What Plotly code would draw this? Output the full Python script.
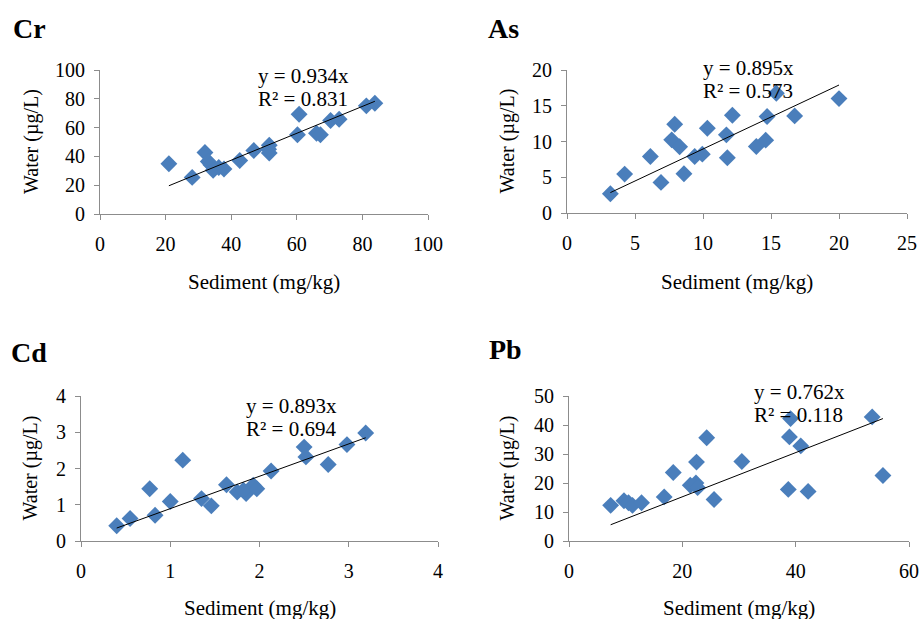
import plotly.graph_objects as go

# ---------------- data ----------------
panels = ["Cr", "As", "Cd", "Pb"]

cr_sediment = [21.0, 28.1, 32.0, 33.0, 33.8, 34.5, 36.2, 37.8, 42.6, 46.9, 51.6, 51.6, 51.4,
               60.2, 60.7, 66.0, 67.2, 70.3, 72.9, 81.2, 83.8]
cr_water = [34.9, 25.4, 42.7, 36.5, 34.2, 30.3, 32.3, 31.2, 37.2, 44.1, 47.8, 42.3, 45.0,
            55.0, 69.3, 56.1, 55.0, 64.9, 65.8, 75.1, 76.9]

as_sediment = [3.19, 4.24, 6.13, 6.91, 7.70, 7.92, 8.28, 8.60, 9.39, 9.95, 10.32, 11.72, 11.79,
               12.16, 13.92, 14.61, 14.71, 15.39, 16.74, 20.0]
as_water = [2.70, 5.44, 7.91, 4.28, 10.23, 12.42, 9.26, 5.49, 7.91, 8.23, 11.86, 10.93, 7.72,
            13.67, 9.30, 10.19, 13.49, 16.74, 13.58, 16.0]

cd_sediment = [0.40, 0.55, 0.77, 0.83, 1.00, 1.14, 1.35, 1.46, 1.63, 1.75, 1.85, 1.82, 1.93,
               1.97, 2.13, 2.50, 2.52, 2.77, 2.98, 3.19]
cd_water = [0.42, 0.62, 1.44, 0.71, 1.09, 2.23, 1.17, 0.97, 1.55, 1.35, 1.31, 1.40, 1.54,
            1.44, 1.93, 2.59, 2.32, 2.11, 2.66, 2.98]

pb_sediment = [7.35, 9.7, 10.5, 11.2, 12.8, 16.8, 18.4, 21.4, 22.4, 22.5, 22.7, 24.3, 25.6,
               30.5, 38.7, 38.9, 39.1, 40.9, 42.2, 53.5, 55.4]
pb_water = [12.3, 13.9, 13.2, 12.3, 13.2, 15.2, 23.6, 19.2, 20.0, 27.2, 18.4, 35.6, 14.3,
            27.4, 17.8, 35.9, 42.2, 32.8, 17.1, 42.8, 22.6]

slopes = [0.934, 0.895, 0.893, 0.762]
r2_values = ["0.831", "0.573", "0.694", "0.118"]

x_ranges = [[0, 100], [0, 25], [0, 4], [0, 60]]
x_dticks = [20, 5, 1, 20]
y_ranges = [[0, 100], [0, 20], [0, 4], [0, 50]]
y_dticks = [20, 5, 1, 10]

sediments = [cr_sediment, as_sediment, cd_sediment, pb_sediment]
waters = [cr_water, as_water, cd_water, pb_water]

# ---------------- layout helpers ----------------
W, H = 921, 619
# plot boxes in pixels: (left, right, top, bottom)
boxes = [(100, 428, 70, 214), (567, 907, 70, 213), (81, 438, 396, 541), (569, 909, 396, 541)]
# panel title positions (left px, center y px)
title_pos = [(11, 28), (486, 28), (9, 352), (487, 349)]
# equation positions (left px, center y px of first line)
eq_pos = [(256, 76), (701, 68), (244, 406), (752, 392)]
ytitle_x = [32, 507, 30, 507]
xtitle_y = [282, 282, 608, 608]

def px(x):
    return x / W

def py(y):
    return 1 - y / H

FONT = "Liberation Serif, Times New Roman, serif"
MARKER = "#4A7EBB"
AXIS = "#8C8C8C"

fig = go.Figure()
annotations = []
layout_axes = {}

for i, name in enumerate(panels):
    n = i + 1
    xa = "x" if n == 1 else f"x{n}"
    ya = "y" if n == 1 else f"y{n}"
    l, r, t, b = boxes[i]
    sx, sy = sediments[i], waters[i]

    fig.add_trace(go.Scatter(
        x=sx, y=sy, mode="markers", xaxis=xa, yaxis=ya,
        marker=dict(symbol="diamond", size=13, color=MARKER, line=dict(width=0)),
        showlegend=False, cliponaxis=False,
    ))
    xmin, xmax = min(sx), max(sx)
    fig.add_trace(go.Scatter(
        x=[xmin, xmax], y=[slopes[i] * xmin, slopes[i] * xmax], mode="lines",
        xaxis=xa, yaxis=ya, line=dict(color="black", width=1), showlegend=False,
    ))

    common = dict(showgrid=False, zeroline=False, showline=True, linecolor=AXIS, linewidth=1,
                  ticks="outside", ticklen=5, tickcolor=AXIS, tickwidth=1, automargin=False,
                  tickfont=dict(family=FONT, size=20, color="black"), fixedrange=True)
    layout_axes["xaxis" if n == 1 else f"xaxis{n}"] = dict(
        common, domain=[px(l), px(r)], range=x_ranges[i], dtick=x_dticks[i], tick0=0,
        anchor=ya, ticklabelstandoff=7)
    layout_axes["yaxis" if n == 1 else f"yaxis{n}"] = dict(
        common, domain=[py(b), py(t)], range=y_ranges[i], dtick=y_dticks[i], tick0=0,
        anchor=xa, ticklabelstandoff=5)

    annotations.append(dict(text=f"<b>{name}</b>", x=px(title_pos[i][0]), y=py(title_pos[i][1]),
                            xref="paper", yref="paper", xanchor="left", yanchor="middle",
                            showarrow=False, font=dict(family=FONT, size=28, color="black")))
    annotations.append(dict(text=f"y = {slopes[i]:.3f}x", x=px(eq_pos[i][0]), y=py(eq_pos[i][1]),
                            xref="paper", yref="paper", xanchor="left", yanchor="middle",
                            showarrow=False, font=dict(family=FONT, size=21, color="black")))
    annotations.append(dict(text=f"R² = {r2_values[i]}", x=px(eq_pos[i][0]), y=py(eq_pos[i][1] + 23),
                            xref="paper", yref="paper", xanchor="left", yanchor="middle",
                            showarrow=False, font=dict(family=FONT, size=21, color="black")))
    annotations.append(dict(text="Water (µg/L)", x=px(ytitle_x[i]), y=py((t + b) / 2),
                            xref="paper", yref="paper", xanchor="center", yanchor="middle",
                            textangle=-90, showarrow=False,
                            font=dict(family=FONT, size=20, color="black")))
    annotations.append(dict(text="Sediment (mg/kg)", x=px((l + r) / 2), y=py(xtitle_y[i]),
                            xref="paper", yref="paper", xanchor="center", yanchor="middle",
                            showarrow=False, font=dict(family=FONT, size=21, color="black")))

fig.update_layout(
    template="none",
    width=W, height=H, margin=dict(l=0, r=0, t=0, b=0, pad=0, autoexpand=False),
    paper_bgcolor="white", plot_bgcolor="white",
    annotations=annotations, **layout_axes,
)

fig.write_html(
    "out.html",
    config={"displayModeBar": False},
    post_script="document.body.style.margin='0';document.body.style.padding='0';"
                "document.body.style.overflow='hidden';",
)
